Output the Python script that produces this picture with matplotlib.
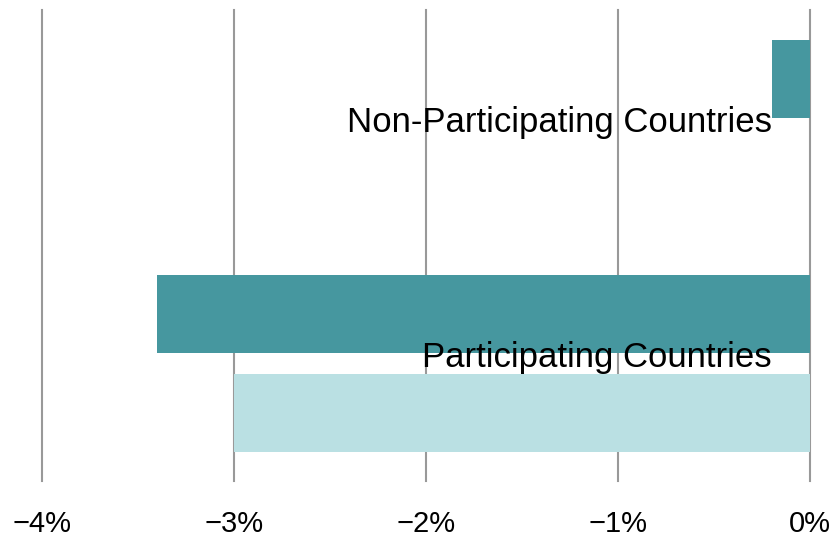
import matplotlib.pyplot as plt
import numpy as np

plt.rcParams['font.family'] = ['Liberation Sans Narrow', 'Liberation Sans', 'DejaVu Sans']

categories = ['Non-Participating Countries', 'Participating Countries']
dark_values = [-0.2, -3.4]
light_values = [np.nan, -3.0]
ticks = [-4, -3, -2, -1, 0]
tick_labels = ['\u22124%', '\u22123%', '\u22122%', '\u22121%', '0%']

dark = '#46979F'
light = '#BAE0E3'

fig = plt.figure(figsize=(8.32, 5.44), dpi=100)
ax = fig.add_axes([42 / 832, 1 - 481 / 544, 768 / 832, 471 / 544])

pos = np.arange(len(categories))
h = 78 / 235
off = 99 / 235

ax.barh(pos, dark_values, height=h, color=dark, zorder=2)
ax.barh(pos + off, light_values, height=h, color=light, zorder=2)

for p, name in zip(pos, categories):
    ax.text(-0.2, p + 53 / 235, name, ha='right', va='baseline',
            fontsize=25, color='black', zorder=3)

ax.set_xlim(-4, 0)
ax.set_ylim(1.711, -0.294)
ax.set_xticks(ticks)
ax.set_xticklabels(tick_labels, fontsize=21)
ax.set_yticks([])
ax.tick_params(axis='x', length=0, pad=21)
ax.grid(axis='x', color='#999999', linewidth=1.5, zorder=1)
for gl in ax.get_xgridlines():
    gl.set_clip_on(False)
for s in ax.spines.values():
    s.set_visible(False)

fig.savefig('out.png', dpi=100)
